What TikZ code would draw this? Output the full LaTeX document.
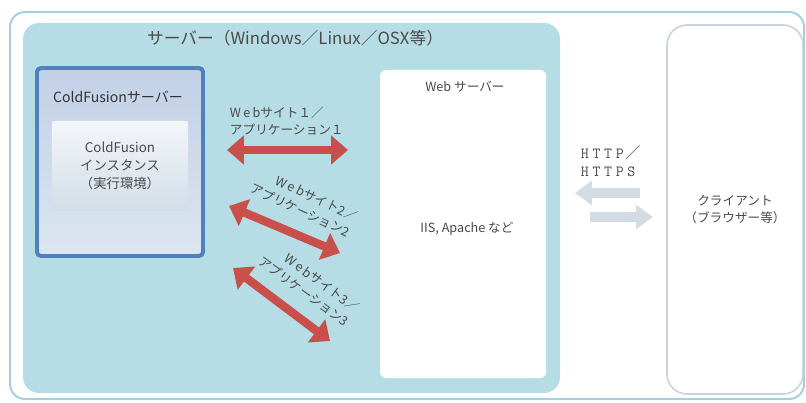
\documentclass[tikz,border=0pt]{standalone}
\usepackage{fontspec}
\setmainfont{Noto Sans CJK JP}
\usetikzlibrary{arrows.meta}
\definecolor{srvblue}{HTML}{B6DDE6}
\definecolor{outerline}{HTML}{A6CDE0}
\definecolor{cfborder}{HTML}{4F81BD}
\definecolor{cftop}{HTML}{C2D0E6}
\definecolor{cfbot}{HTML}{DCE6F2}
\definecolor{insttop}{HTML}{F3F6F9}
\definecolor{instbot}{HTML}{D2DEE8}
\definecolor{sitered}{HTML}{C9504A}
\definecolor{httpgray}{HTML}{D3DBE3}
\definecolor{clientline}{HTML}{C8D2DB}
\definecolor{txtgray}{HTML}{4A4A4A}
\newcommand\tracked[1]{{\addfontfeature{LetterSpace=18}#1}}
\newcommand\gap{\kern2.6pt}

\begin{document}
\begin{tikzpicture}[x=0.25mm, y=-0.25mm, font=\fontsize{9}{12.5}\selectfont, text=txtgray,
    panel/.style={inner sep=0pt, align=center},
    sitearrow/.style={draw=sitered, line width=6pt, {Triangle[length=12pt,width=20pt]}-{Triangle[length=12pt,width=20pt]}},
    httparrow/.style={draw=httpgray, line width=7pt, -{Triangle[length=12pt,width=16.5pt]}}]
  \useasboundingbox (0,0) rectangle (806,403);
  \tikzstyle{word} = [font=\fontsize{9}{12.5}\selectfont, text=txtgray]
  \node (outer) [panel, draw=outerline, line width=1.4pt, rounded corners=3.75mm, minimum width=198.5mm, minimum height=96.75mm] at (407,205.5) {};
  \node (server) [panel, fill=srvblue, rounded corners=4mm, minimum width=134.25mm, minimum height=92.5mm] at (291.5,208) {};
  \node (title) [font=\fontsize{11.9}{14}\selectfont] at (295,38) {サーバー（Windows／Linux／OSX等）};
  \node (cfserver) [panel, draw=cfborder, line width=2.8pt, rounded corners=1mm, top color=cftop, bottom color=cfbot, minimum width=41.5mm, minimum height=47mm] at (120,162) {};
  \node (cflabel) [font=\fontsize{10}{12.5}\selectfont, text=black!80] at (118,97) {ColdFusionサーバー};
  \node (instance) [panel, top color=insttop, bottom color=instbot, rounded corners=0.5mm, minimum width=34mm, minimum height=22.5mm, font=\fontsize{9.5}{12.8}\selectfont] at (120,166) {ColdFusion\\インスタンス\\（実行環境）};
  \node (webserver) [panel, fill=white, rounded corners=1.5mm, minimum width=41.5mm, minimum height=77mm] at (463,224) {};
  \node (weblabel) [word] at (465,87) {Web サーバー};
  \node (iis) [word] at (467,229) {IIS, Apache など};
  \node (client) [panel, draw=clientline, line width=1.1pt, fill=white, rounded corners=5mm, minimum width=34mm, minimum height=92.25mm] at (735,209.5) {クライアント\\（ブラウザー等）};

  \coordinate (s1a) at (227,150);
  \coordinate (s1b) at (348,150);
  \coordinate (s2a) at (229,206);
  \coordinate (s2b) at (340,253);
  \coordinate (s3a) at (233,268);
  \coordinate (s3b) at (330,341);
  \draw[sitearrow] (s1a) -- (s1b);
  \draw[sitearrow] (s2a) -- (s2b);
  \draw[sitearrow] (s3a) -- (s3b);
  \node (site1) [word, anchor=west, align=left] at (225,121) {\tracked{Web}サイト１／\\アプリケーション１};
  \node (site2) [word, rotate=-25, align=right] at (304,202) {\tracked{Web}サイト2／\\アプリケーション2};
  \node (site3) [word, rotate=-36, align=right] at (309,284) {\tracked{Web}サイト3／\\アプリケーション3};

  \node (http) [word, anchor=west, align=left, font=\fontsize{11}{13}\selectfont] at (576,161) {{\ttfamily H\gap T\gap T\gap P}\kern1pt／\\{\ttfamily H\gap T\gap T\gap P\gap S}};
  \coordinate (h1a) at (640,193);
  \coordinate (h1b) at (575,193);
  \coordinate (h2a) at (590,217);
  \coordinate (h2b) at (653,217);
  \draw[httparrow] (h1a) -- (h1b);
  \draw[httparrow] (h2a) -- (h2b);
\end{tikzpicture}
\end{document}
